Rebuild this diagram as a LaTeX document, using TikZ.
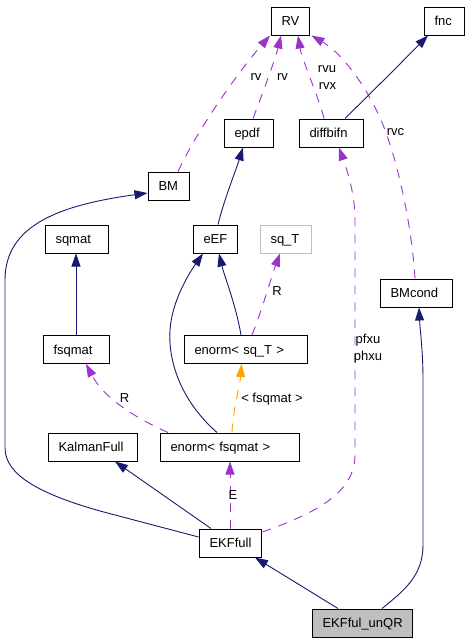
\documentclass[tikz,border=0pt]{standalone}
\usepackage{fontspec}
\setmainfont{Liberation Sans}
\usetikzlibrary{arrows.meta,calc}
\definecolor{navyc}{HTML}{191970}
\definecolor{purc}{HTML}{9A32CD}
\definecolor{orac}{HTML}{FFA500}
\definecolor{grayc}{HTML}{BFBFBF}
\begin{document}
\begin{tikzpicture}[x=1pt,y=-1pt,
  font=\fontsize{13}{15}\selectfont,
  box/.style={draw=black, line width=1pt, inner xsep=10.5pt, inner ysep=0pt,
    minimum height=28pt, align=left, text height=9.5pt, text depth=0.5pt},
  lbl/.style={inner sep=0pt, anchor=base},
  ne/.style={draw=navyc, line width=0.9pt, -{Triangle[length=13pt,width=9pt]}, fill=none},
  pe/.style={draw=purc, line width=0.9pt, dash pattern=on 9pt off 8pt, -{Triangle[length=13pt,width=9pt,fill=purc]}},
  oe/.style={draw=orac, line width=0.9pt, dash pattern=on 9pt off 8pt, -{Triangle[length=13pt,width=9pt,fill=orac]}},
]
\useasboundingbox (0,0) rectangle (469,643);
\tikzset{ne/.append style={-{Triangle[length=13pt,width=9pt,fill=navyc]}}}

% nodes
\node[box, text width=17pt] (rv) at (290,21) {RV};
\node[box, text width=19pt] (fnc) at (444,21) {fnc};
\node[box, text width=28pt] (epdf) at (248.5,133) {epdf};
\node[box, text width=43pt] (diff) at (331,133) {diffbifn};
\node[box, text width=20pt] (bm) at (168.5,186) {BM};
\node[box, text width=42pt] (sqmat) at (76.5,239) {sqmat};
\node[box, text width=23pt] (eef) at (215,239) {eEF};
\node[box, draw=grayc, text width=30pt] (sqt) at (285.5,239) {sq\_T};
\node[box, text width=51pt] (bmc) at (416,293) {BMcond};
\node[box, text width=45pt] (fsq) at (76,349.5) {fsqmat};
\node[box, text width=102pt] (esq) at (245.5,349.5) {enorm\textless{} sq\_T \textgreater};
\node[box, text width=68pt] (kal) at (92.5,447) {KalmanFull};
\node[box, text width=118pt] (enf) at (229.5,447) {enorm\textless{} fsqmat \textgreater};
\node[box, text width=41pt] (ekf) at (230,543) {EKFfull};
\node[box, fill=grayc, text width=79pt] (unqr) at (362,623) {EKFful\_unQR};

% edges to RV and fnc
\draw[pe] ($(bm.north)+(9.5,0)$) .. controls (200,125) and (240,70) .. ($(rv.south)+(-20,0)$);
\draw[pe] ($(epdf.north)+(4.5,0)$) .. controls (262,95) and (275,60) .. ($(rv.south)+(-9,0)$);
\draw[pe] ($(diff.north)+(-7,0)$) .. controls (318,95) and (302,60) .. ($(rv.south)+(8,0)$);
\draw[pe] ($(bmc.north)+(-1,0)$) .. controls (412,230) and (400,170) .. (385,130) .. controls (372,95) and (345,55) .. ($(rv.south east)+(2,0)$);
\draw[ne] ($(diff.north)+(14,0)$) -- (393,71) -- ($(fnc.south)+(-16,0)$);
\draw[ne] ($(eef.north)+(3,0)$) .. controls (224,200) and (236,170) .. ($(epdf.south)+(-5.5,0)$);

% EKFfull to BM
\draw[ne] ($(ekf.west)+(0,-6)$) -- (100,511) .. controls (40,494) and (5,475) .. (5,448) -- (5,280) .. controls (5,225) and (60,205) .. ($(bm.west)+(0,7)$);

\draw[ne] (fsq.north) -- (fsq.north |- sqmat.south);
\draw[ne] ($(esq.north)+(-4.5,0)$) .. controls (236,305) and (224,275) .. ($(eef.south)+(4,0)$);
\draw[pe] ($(esq.north)+(6.5,0)$) .. controls (262,310) and (272,275) .. ($(sqt.south)+(-5.5,0)$);
\draw[ne] ($(enf.north)+(-12.5,0)$) .. controls (180,400) and (168,360) .. (170,330) .. controls (172,300) and (190,272) .. ($(eef.south)+(-12,0)$);
\draw[pe] ($(enf.north)+(-61.5,0)$) .. controls (140,420) and (105,400) .. ($(fsq.south)+(10,0)$);
\draw[oe] ($(enf.north)+(2.5,0)$) .. controls (233,410) and (240,385) .. ($(esq.south)+(-4,0)$);
\draw[pe] (ekf.north) -- (ekf.north |- enf.south);
\draw[pe] ($(ekf.east)+(1,-11)$) .. controls (310,515) and (355,495) .. (355,455) -- (355,220) .. controls (355,190) and (345,165) .. ($(diff.south)+(8,0)$);
\draw[ne] ($(ekf.north)+(-19,0)$) -- ($(kal.south)+(22.5,0)$);
\draw[ne] ($(unqr.north)+(-24,0)$) -- ($(ekf.south)+(25,0)$);
\draw[ne] ($(unqr.north)+(20,0)$) .. controls (405,590) and (423,575) .. (423,545) -- (423,380) .. controls (423,350) and (420,330) .. ($(bmc.south)+(3,0)$);

% labels
\node[lbl] (l1) at (256,80) {rv};
\node[lbl] (l2) at (282.5,80) {rv};
\node[lbl] (l3) at (327,72) {rvu};
\node[lbl] (l4) at (327.5,89) {rvx};
\node[lbl] (l5) at (395.5,135) {rvc};
\node[lbl] (l6) at (277,295) {R};
\node[lbl] (l7) at (124.5,402) {R};
\node[lbl] (l8) at (272,402) {\textless{} fsqmat \textgreater};
\node[lbl] (l9) at (368,343) {pfxu};
\node[lbl] (l10) at (368,360) {phxu};
\node[lbl] (l11) at (233,499) {E};
\end{tikzpicture}
\end{document}
